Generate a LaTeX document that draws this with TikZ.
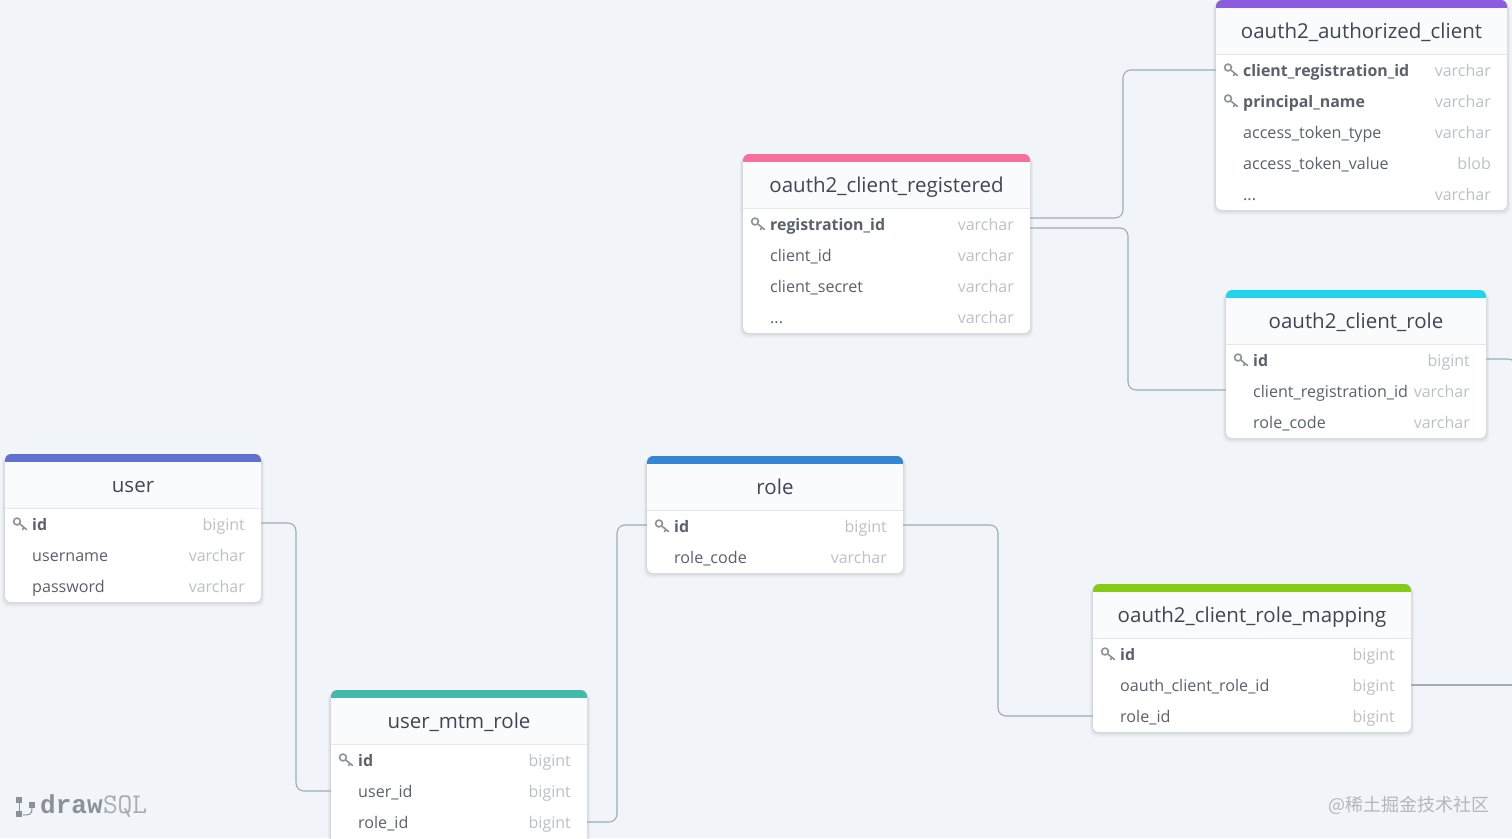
\documentclass[tikz,border=0pt]{standalone}
\usepackage{fontspec}
\setmainfont{Open Sans}
\newfontfamily\cjkfont{Noto Sans CJK SC}
\newfontfamily\logobold{Liberation Mono}
\newfontfamily\logolight{Latin Modern Mono}
\definecolor{pagebg}{HTML}{F1F5F9}
\definecolor{headbg}{HTML}{FAFBFC}
\definecolor{headline}{HTML}{E5E7EB}
\definecolor{titlecol}{HTML}{3F4754}
\definecolor{fieldcol}{HTML}{5A616B}
\definecolor{typecol}{HTML}{BDC0C4}
\definecolor{linkcol}{HTML}{9FABB7}
\definecolor{keycol}{HTML}{8D9299}
\definecolor{logocol}{HTML}{8A9199}
\definecolor{markcol}{HTML}{B2B7BD}
\definecolor{cpurple}{HTML}{8B5CE0}
\definecolor{cpink}{HTML}{F7709C}
\definecolor{ccyan}{HTML}{22D3EE}
\definecolor{cindigo}{HTML}{6070CC}
\definecolor{cteal}{HTML}{45B8AC}
\definecolor{cblue}{HTML}{3385D6}
\definecolor{cgreen}{HTML}{84CC16}
\tikzset{
  titletext/.style={inner sep=0pt,anchor=base,text=titlecol,font=\fontsize{20.5}{23}\selectfont},
  fieldtext/.style={inner sep=0pt,anchor=base west,text=fieldcol,font=\fontsize{16.1}{18}\selectfont},
  keytext/.style={fieldtext,font=\fontsize{15.9}{18}\selectfont\bfseries},
  typetext/.style={inner sep=0pt,anchor=base east,text=typecol,font=\fontsize{16}{18}\selectfont},
  rowbox/.style={inner sep=0pt,outer sep=0pt,minimum height=31pt},
  link/.style={draw=linkcol,line width=1.1pt,rounded corners=8pt},
  keyicon/.style={draw=keycol,line width=1.6pt,line cap=round}
}
% id, x1, y1, x2, y2, colour, title
\newcommand{\cardbox}[7]{%
  \foreach \sh/\op in {6/.012,5/.015,4/.018,3/.022,2/.025,1/.03}{%
    \fill[black,opacity=\op,rounded corners=7pt]
      ({#2-\sh*.6},{#3+2}) rectangle ({#4+\sh*.6},{#5+\sh*.9});}%
  \fill[white,rounded corners=6pt] (#2,#3) rectangle (#4,#5);
  \fill[#6,rounded corners=6pt] (#2,#3) rectangle (#4,{#3+16});
  \fill[headbg] (#2,{#3+8}) rectangle (#4,{#3+54});
  \draw[headline,line width=1pt] (#2,{#3+54}) -- (#4,{#3+54});
  \node[titletext] (#1) at ({(#2+#4)/2},{#3+38}) {#7};
}
% id, x1, x2, y, name, type
\newcommand{\fieldrow}[6]{%
  \pgfmathsetmacro{\rw}{#3-#2}%
  \node[rowbox,minimum width=\rw pt] (#1) at ({(#2+#3)/2},#4) {};
  \node[fieldtext] (#1n) at ({#2+27},{#4+6.5}) {#5};
  \node[typetext] (#1t) at ({#3-16},{#4+6.5}) {#6};
}
\newcommand{\keyrow}[6]{%
  \pgfmathsetmacro{\rw}{#3-#2}%
  \node[rowbox,minimum width=\rw pt] (#1) at ({(#2+#3)/2},#4) {};
  \node[keytext] (#1n) at ({#2+27},{#4+6.5}) {#5};
  \node[typetext] (#1t) at ({#3-16},{#4+6.5}) {#6};
  \draw[keyicon] ({#2+12},{#4-2.5}) circle (3.4pt);
  \draw[keyicon] ({#2+15},{#4+0.2}) -- ({#2+21.5},{#4+5.5}) ({#2+19},{#4+3.5}) -- ({#2+17.5},{#4+5.5});
}
\begin{document}
\begin{tikzpicture}[x=1pt,y=-1pt]
\useasboundingbox (0,0) rectangle (1512,838);
\clip (0,0) rectangle (1512,838);
\fill[pagebg] (0,0) rectangle (1512,838);

% oauth2_authorized_client
\cardbox{auth}{1216}{0}{1507}{210}{cpurple}{oauth2\_authorized\_client}
\keyrow{authA}{1216}{1507}{70}{client\_registration\_id}{varchar}
\keyrow{authB}{1216}{1507}{101}{principal\_name}{varchar}
\fieldrow{authC}{1216}{1507}{132}{access\_token\_type}{varchar}
\fieldrow{authD}{1216}{1507}{163}{access\_token\_value}{blob}
\fieldrow{authE}{1216}{1507}{194}{...}{varchar}

% oauth2_client_registered
\cardbox{reg}{743}{154}{1030}{333}{cpink}{oauth2\_client\_registered}
\keyrow{regA}{743}{1030}{224}{registration\_id}{varchar}
\fieldrow{regB}{743}{1030}{255}{client\_id}{varchar}
\fieldrow{regC}{743}{1030}{286}{client\_secret}{varchar}
\fieldrow{regD}{743}{1030}{317}{...}{varchar}

% oauth2_client_role
\cardbox{crole}{1226}{290}{1486}{438}{ccyan}{oauth2\_client\_role}
\keyrow{croleA}{1226}{1486}{360}{id}{bigint}
\fieldrow{croleB}{1226}{1486}{391}{client\_registration\_id}{varchar}
\fieldrow{croleC}{1226}{1486}{422}{role\_code}{varchar}

% user
\cardbox{user}{5}{454}{261}{602}{cindigo}{user}
\keyrow{userA}{5}{261}{524}{id}{bigint}
\fieldrow{userB}{5}{261}{555}{username}{varchar}
\fieldrow{userC}{5}{261}{586}{password}{varchar}

% role
\cardbox{role}{647}{456}{903}{573}{cblue}{role}
\keyrow{roleA}{647}{903}{526}{id}{bigint}
\fieldrow{roleB}{647}{903}{557}{role\_code}{varchar}

% oauth2_client_role_mapping
\cardbox{map}{1093}{584}{1411}{732}{cgreen}{oauth2\_client\_role\_mapping}
\keyrow{mapA}{1093}{1411}{654}{id}{bigint}
\fieldrow{mapB}{1093}{1411}{685}{oauth\_client\_role\_id}{bigint}
\fieldrow{mapC}{1093}{1411}{716}{role\_id}{bigint}

% user_mtm_role
\cardbox{mtm}{331}{690}{587}{850}{cteal}{user\_mtm\_role}
\keyrow{mtmA}{331}{587}{760}{id}{bigint}
\fieldrow{mtmB}{331}{587}{791}{user\_id}{bigint}
\fieldrow{mtmC}{331}{587}{822}{role\_id}{bigint}

% connectors
\coordinate (j1) at (1123,0);
\coordinate (j2) at (1128,0);
\coordinate (j3) at (296,0);
\coordinate (j4) at (617,0);
\coordinate (j5) at (998,0);
\coordinate (j6) at (1516,0);
\coordinate (off1) at (1516,385);
\coordinate (off2) at (1530,685);
\coordinate (regUp) at ([yshift=6pt]regA.east);
\coordinate (regDn) at ([yshift=-4pt]regA.east);
\coordinate (croleIn) at ([yshift=1pt]croleB.west);
\coordinate (croleOut) at ([yshift=1pt]croleA.east);
\coordinate (userOut) at ([yshift=1pt]userA.east);
\coordinate (roleIn) at ([yshift=1pt]roleA.west);
\coordinate (roleOut) at ([yshift=1pt]roleA.east);
\draw[link] (authA.west) -- (authA.west -| j1) -- (regUp -| j1) -- (regUp);
\draw[link] (regDn) -- (regDn -| j2) -- (croleIn -| j2) -- (croleIn);
\draw[link] (croleOut) -- (croleOut -| j6) -- (off1);
\draw[link] (userOut) -- (userOut -| j3) -- (mtmB.west -| j3) -- (mtmB.west);
\draw[link] (mtmC.east) -- (mtmC.east -| j4) -- (roleIn -| j4) -- (roleIn);
\draw[link] (roleOut) -- (roleOut -| j5) -- (mapC.west -| j5) -- (mapC.west);
\draw[link] (mapB.east) -- (off2);

% watermarks
\node[inner sep=0pt,anchor=base west,text=logocol,font=\logobold\bfseries\fontsize{26}{28}\selectfont] (logoA) at (40,813) {draw};
\node[inner sep=0pt,anchor=base west,text=logocol!75,font=\logolight\fontsize{28.5}{30}\selectfont] (logoB) at (logoA.base east) {SQL};
\node[inner sep=0pt,anchor=base west,text=markcol,font=\cjkfont\fontsize{18}{20}\selectfont] (mark) at (1328,811) {@稀土掘金技术社区};
\fill[logocol] (16,797) rectangle (22,803);
\fill[logocol] (16,811) rectangle (22,817);
\fill[logocol] (29,802) rectangle (35,808);
\draw[logocol,line width=1pt] (19,803) -- (19,811);
\draw[logocol,line width=1pt] (32,808) .. controls (32,815) and (29,815) .. (23,815);
\end{tikzpicture}
\end{document}
